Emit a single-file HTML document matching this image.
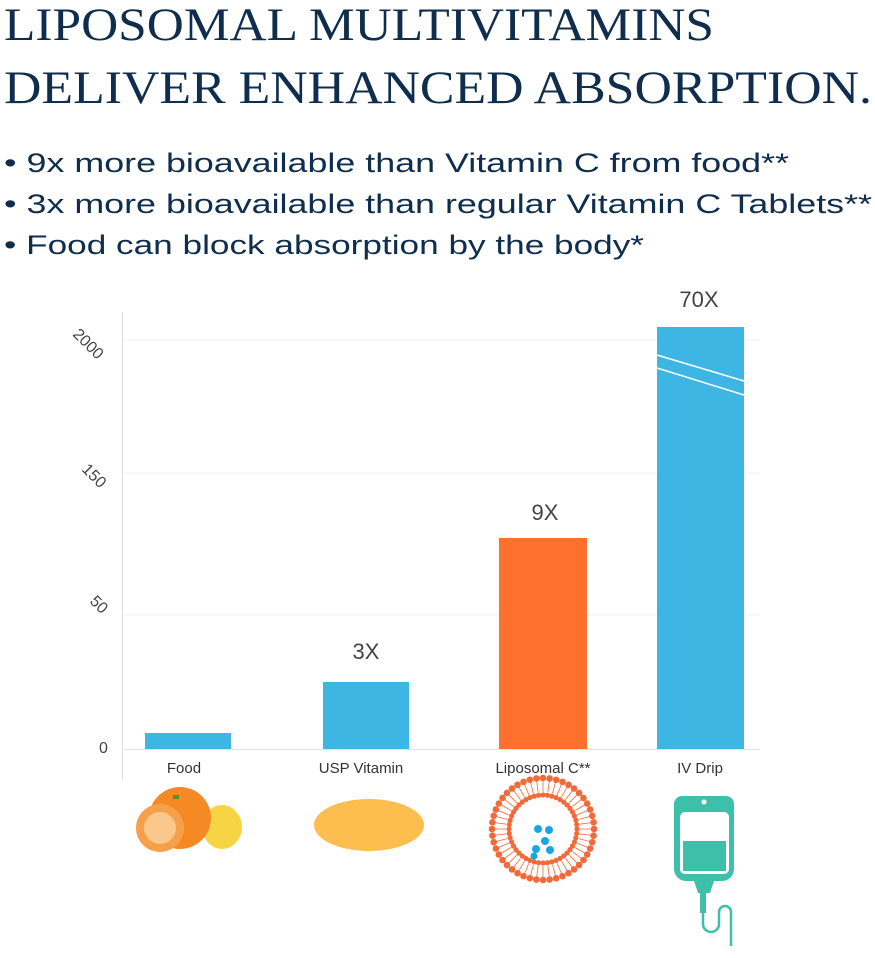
<!DOCTYPE html>
<html><head><meta charset="utf-8"><style>
html,body{margin:0;padding:0;background:#fff;}
svg{display:block}
</style></head><body>
<svg id="s" width="875" height="958" viewBox="0 0 875 958" xmlns="http://www.w3.org/2000/svg">
<g font-family="Liberation Serif, serif" fill="#0f2d4c" font-size="47">
<text x="4" y="40" textLength="710" lengthAdjust="spacingAndGlyphs">LIPOSOMAL MULTIVITAMINS</text>
<text x="4" y="103" textLength="868" lengthAdjust="spacingAndGlyphs">DELIVER ENHANCED ABSORPTION.</text>
</g>
<g font-family="Liberation Sans, sans-serif" fill="#0f2d4c" font-size="27">
<text x="4" y="172" textLength="785" lengthAdjust="spacingAndGlyphs">• 9x more bioavailable than Vitamin C from food**</text>
<text x="4" y="213" textLength="868" lengthAdjust="spacingAndGlyphs">• 3x more bioavailable than regular Vitamin C Tablets**</text>
<text x="4" y="254" textLength="640" lengthAdjust="spacingAndGlyphs">• Food can block absorption by the body*</text>
</g>
<g stroke="#f2f2f2" stroke-width="1">
<line x1="122" y1="340" x2="760" y2="340"/><line x1="122" y1="473" x2="760" y2="473"/><line x1="122" y1="615" x2="760" y2="615"/>
</g>
<line x1="122.5" y1="312" x2="122.5" y2="780" stroke="#ddd"/>
<line x1="122" y1="749.5" x2="760" y2="749.5" stroke="#e3e3e3"/>
<g font-family="Liberation Sans, sans-serif" font-size="16" fill="#444">
<text transform="translate(72,335) rotate(45)">2000</text>
<text transform="translate(81,470) rotate(45)">150</text>
<text transform="translate(89,602) rotate(45)">50</text>
<text x="99" y="753">0</text>
</g>
<rect x="145" y="733" width="86" height="16" fill="#3db6e4"/>
<rect x="323" y="682" width="86" height="67" fill="#3db6e4"/>
<rect x="499" y="538" width="88" height="211" fill="#ff6f2e"/>
<rect x="657" y="327" width="87" height="422" fill="#3db6e4"/>
<g stroke="#fff" stroke-width="1.5"><line x1="657" y1="355" x2="744" y2="381"/><line x1="657" y1="368" x2="744" y2="395"/></g>
<g font-family="Liberation Sans, sans-serif" font-size="15" fill="#333" text-anchor="middle">
<text x="184" y="773">Food</text><text x="361" y="773">USP Vitamin</text><text x="543" y="773">Liposomal C**</text><text x="700" y="773">IV Drip</text>
</g>
<g font-family="Liberation Sans, sans-serif" font-size="22" fill="#444" text-anchor="middle">
<text x="366" y="659">3X</text><text x="545" y="520">9X</text><text x="699" y="307">70X</text>
</g>
<ellipse cx="222" cy="827" rx="20" ry="22" fill="#f7d443"/>
<circle cx="180" cy="818" r="31" fill="#f58a25"/>
<circle cx="160" cy="828" r="24" fill="#f7a04a"/>
<circle cx="160" cy="828" r="16" fill="#fbc78a"/>
<rect x="173" y="795" width="6" height="4" fill="#6a8a2a"/>
<ellipse cx="369" cy="825" rx="55" ry="26" fill="#fdbe4f"/>
<g id="lipo"></g>
<g fill="#1aa6e6"><circle cx="538" cy="829" r="4"/><circle cx="549" cy="830" r="4"/><circle cx="545" cy="841" r="4"/><circle cx="536" cy="849" r="4"/><circle cx="550" cy="850" r="4"/><circle cx="534" cy="856" r="3.5"/></g>
<g fill="#3ebfaa">
<path d="M682 796 h44 a8 8 0 0 1 8 8 v65 a12 12 0 0 1 -12 12 h-8 l-4 12 h-12 l-4 -12 h-8 a12 12 0 0 1 -12 -12 v-65 a8 8 0 0 1 8 -8z"/>
<rect x="700" y="893" width="6" height="20"/>
</g>
<rect x="680" y="812" width="49" height="62" rx="5" fill="#fff"/>
<rect x="683" y="841" width="43" height="30" fill="#3ebfaa"/>
<circle cx="704" cy="802" r="2.5" fill="#fff"/>
<path d="M703 912 v12 a8 8 0 0 0 16 0 v-12 a6 6 0 0 1 12 0 v34" fill="none" stroke="#3ebfaa" stroke-width="2.5"/>
</svg>
<script>
var g=document.getElementById('lipo'),h='';
var cx=543,cy=829;
for(var i=0;i<48;i++){var a=i/48*2*Math.PI,c=Math.cos(a),s=Math.sin(a);
h+='<circle cx="'+(cx+51*c)+'" cy="'+(cy+51*s)+'" r="3.3" fill="#f26a3a"/>';
h+='<circle cx="'+(cx+34*c)+'" cy="'+(cy+34*s)+'" r="2.6" fill="#f26a3a"/>';
h+='<line x1="'+(cx+37*c)+'" y1="'+(cy+37*s)+'" x2="'+(cx+48*c)+'" y2="'+(cy+48*s)+'" stroke="#f26a3a" stroke-width="0.8"/>';}
g.innerHTML=h;
</script>
</body></html>
